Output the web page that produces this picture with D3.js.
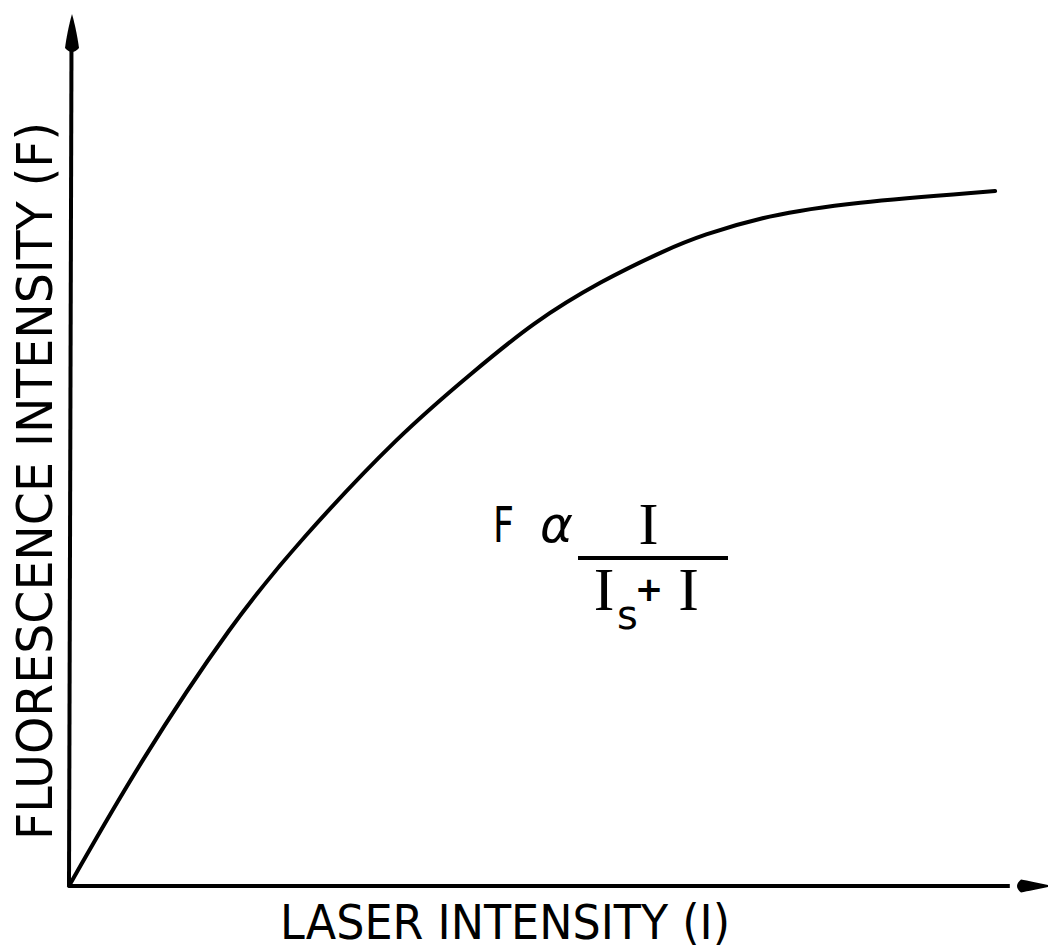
<!DOCTYPE html>
<html>
<head>
<meta charset="utf-8">
<script src="https://cdn.jsdelivr.net/npm/d3@7"></script>
<style>
  html, body { margin: 0; padding: 0; background: #fff; }
  svg { display: block; }
</style>
</head>
<body>
<svg id="chart" width="1048" height="950"></svg>
<script>
// Laser intensity (arbitrary units) and the resulting fluorescence signal
const laserIntensity = [0, 0.72, 1.67, 2.36, 3.38, 4.13, 4.73, 5.43, 6.10, 6.45, 7.12, 7.97, 9.45];
const fluorescence   = [0, 1.42, 3.03, 3.97, 5.19, 5.90, 6.46, 6.94, 7.30, 7.46, 7.69, 7.84, 7.97];

const xTitle = "LASER INTENSITY (I)";
const yTitle = "FLUORESCENCE INTENSITY (F)";

const svg = d3.select("#chart");
const ink = "#000";
const sans = "'DejaVu Sans', 'Liberation Sans', sans-serif";
const serif = "'Liberation Serif', 'DejaVu Serif', serif";

const x = d3.scaleLinear().domain([0, 10]).range([69, 1049]);
const y = d3.scaleLinear().domain([0, 10]).range([886, 14]);

// Axes without ticks: plain lines ending in arrowheads
const xAxis = d3.axisBottom(x).tickValues([]).tickSizeOuter(0);
const yAxis = d3.axisLeft(y).tickValues([]).tickSizeOuter(0);

svg.append("g")
  .attr("transform", `translate(0,${y(0)})`)
  .call(xAxis)
  .call(g => g.select(".domain")
    .attr("d", `M${x(0)},0H${x(9.6)}`)
    .attr("stroke", ink).attr("stroke-width", 4));

svg.append("g")
  .attr("transform", `translate(${x(0)},0)`)
  .call(yAxis)
  .call(g => g.select(".domain")
    .attr("d", `M0,${y(0)}L2.5,${y(9.7)}`)
    .attr("stroke", ink).attr("stroke-width", 4));

// Arrowheads at the axis ends
const yTip = [x(0) + 3, y(10)];
svg.append("path")
  .attr("d", `M${yTip[0]},${yTip[1]}
              C${yTip[0] + 3},${yTip[1] + 10} ${yTip[0] + 6},${yTip[1] + 26} ${yTip[0] + 7},${yTip[1] + 34}
              Q${yTip[0]},${yTip[1] + 42} ${yTip[0] - 7},${yTip[1] + 34}
              C${yTip[0] - 6},${yTip[1] + 26} ${yTip[0] - 3},${yTip[1] + 10} ${yTip[0]},${yTip[1]}Z`)
  .attr("fill", ink);

const xTip = [x(10) + 4, y(0)];
svg.append("path")
  .attr("d", `M${xTip[0]},${xTip[1]}
              C${xTip[0] - 10},${xTip[1] - 2} ${xTip[0] - 24},${xTip[1] - 5} ${xTip[0] - 32},${xTip[1] - 6.5}
              Q${xTip[0] - 40},${xTip[1]} ${xTip[0] - 32},${xTip[1] + 6.5}
              C${xTip[0] - 24},${xTip[1] + 5} ${xTip[0] - 10},${xTip[1] + 2} ${xTip[0]},${xTip[1]}Z`)
  .attr("fill", ink);

// Saturation curve, smoothed through the readings
const line = d3.line()
  .x((d, i) => x(laserIntensity[i]))
  .y(d => y(d))
  .curve(d3.curveBasis);

svg.append("path")
  .datum(fluorescence)
  .attr("d", line)
  .attr("fill", "none")
  .attr("stroke", ink)
  .attr("stroke-width", 4)
  .attr("stroke-linecap", "round")
  .attr("stroke-linejoin", "round");

// Axis titles
svg.append("text")
  .attr("x", 280).attr("y", 939)
  .attr("font-family", sans).attr("font-size", 48)
  .attr("fill", ink)
  .attr("textLength", 450).attr("lengthAdjust", "spacingAndGlyphs")
  .text(xTitle);

svg.append("text")
  .attr("transform", "translate(52,481) rotate(-90)")
  .attr("text-anchor", "middle")
  .attr("font-family", sans).attr("font-size", 50)
  .attr("fill", ink)
  .attr("textLength", 718).attr("lengthAdjust", "spacingAndGlyphs")
  .text(yTitle);

// Saturation law annotation: F α I / (Is + I)
const eq = svg.append("g").attr("fill", ink);
eq.append("text")
  .attr("x", 493).attr("y", 542)
  .attr("font-family", sans).attr("font-size", 50)
  .attr("textLength", 21).attr("lengthAdjust", "spacingAndGlyphs")
  .text("F");
eq.append("text")
  .attr("x", 540).attr("y", 542)
  .attr("font-family", sans).attr("font-style", "italic").attr("font-size", 50)
  .text("α");
eq.append("text")
  .attr("x", 648.5).attr("y", 544)
  .attr("text-anchor", "middle")
  .attr("font-family", serif).attr("font-size", 60)
  .text("I");
eq.append("line")
  .attr("x1", 578).attr("x2", 728)
  .attr("y1", 558).attr("y2", 558)
  .attr("stroke", ink).attr("stroke-width", 4);
eq.append("text")
  .attr("x", 604).attr("y", 610)
  .attr("text-anchor", "middle")
  .attr("font-family", serif).attr("font-size", 62)
  .text("I");
eq.append("text")
  .attr("x", 617).attr("y", 629)
  .attr("font-family", sans).attr("font-size", 40)
  .text("s");
eq.append("text")
  .attr("x", 649).attr("y", 601)
  .attr("text-anchor", "middle")
  .attr("font-family", sans).attr("font-weight", "bold").attr("font-size", 34)
  .text("+");
eq.append("text")
  .attr("x", 688.5).attr("y", 610)
  .attr("text-anchor", "middle")
  .attr("font-family", serif).attr("font-size", 62)
  .text("I");
</script>
</body>
</html>
